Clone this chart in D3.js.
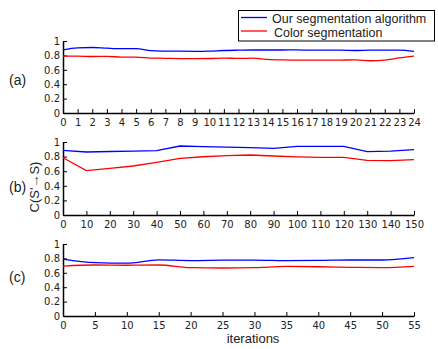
<!DOCTYPE html>
<html>
<head>
<meta charset="utf-8">
<script src="https://cdn.jsdelivr.net/npm/d3@7"></script>
<style>
  body { margin: 0; background: #fff; }
  svg { font-family: "Liberation Sans", Arial, sans-serif; display: block; }
</style>
</head>
<body>
<svg width="438" height="349"></svg>
<script>
// panel (a): iterations 0..24
const itersA = d3.range(0, 25);
const oursA = [0.878, 0.905, 0.91, 0.9, 0.893, 0.893, 0.865, 0.86, 0.858, 0.857, 0.86, 0.868, 0.872, 0.875, 0.875, 0.875, 0.877, 0.872, 0.874, 0.872, 0.868, 0.874, 0.874, 0.874, 0.855];
const colorA = [0.79, 0.79, 0.785, 0.786, 0.776, 0.776, 0.762, 0.76, 0.756, 0.756, 0.757, 0.763, 0.758, 0.762, 0.744, 0.737, 0.735, 0.733, 0.733, 0.735, 0.737, 0.726, 0.734, 0.765, 0.79];

// panel (b): 0..150 step 10
const itersB = d3.range(0, 151, 10);
const oursB = [0.886, 0.863, 0.87, 0.876, 0.882, 0.945, 0.938, 0.93, 0.922, 0.913, 0.94, 0.94, 0.94, 0.868, 0.875, 0.895];
const colorB = [0.785, 0.607, 0.64, 0.671, 0.72, 0.776, 0.798, 0.812, 0.822, 0.808, 0.797, 0.79, 0.79, 0.749, 0.744, 0.758];

// panel (c): 0..55 step 5
const itersC = d3.range(0, 56, 5);
const oursC = [0.79, 0.74, 0.733, 0.78, 0.77, 0.775, 0.777, 0.77, 0.772, 0.778, 0.778, 0.81];
const colorC = [0.694, 0.708, 0.705, 0.708, 0.672, 0.667, 0.672, 0.688, 0.684, 0.676, 0.672, 0.69];

const yTicks = [0, 0.2, 0.4, 0.6, 0.8, 1];
const seriesNames = ["Our segmentation algorithm", "Color segmentation"];
const colors = ["#0000ff", "#ff0000"];

const svg = d3.select("svg");
const x0 = 63, x1 = 414;

const panels = [
  { label: "(a)", xs: itersA, s: [oursA, colorA], top: 41, bottom: 113, ticks: itersA, max: 24, curve: d3.curveMonotoneX, ly: 85 },
  { label: "(b)", xs: itersB, s: [oursB, colorB], top: 142, bottom: 215, ticks: itersB, max: 150, curve: d3.curveLinear, ly: 192 },
  { label: "(c)", xs: itersC, s: [oursC, colorC], top: 244, bottom: 316, ticks: itersC, max: 55, curve: d3.curveMonotoneX, ly: 282 }
];

panels.forEach(p => {
  const x = d3.scaleLinear().domain([0, p.max]).range([x0, x1]);
  const y = d3.scaleLinear().domain([0, 1]).range([p.bottom, p.top]);

  const xAxis = svg.append("g")
    .attr("transform", "translate(0," + p.bottom + ")")
    .call(d3.axisBottom(x).tickValues(p.ticks).tickSizeInner(-4).tickSizeOuter(0).tickPadding(6).tickFormat(d3.format("d")));
  const yAxis = svg.append("g")
    .attr("transform", "translate(" + x0 + ",0)")
    .call(d3.axisLeft(y).tickValues(yTicks).tickSizeInner(-4).tickSizeOuter(0).tickPadding(3).tickFormat(d => d === 0 || d === 1 ? d : d.toFixed(1)));

  [xAxis, yAxis].forEach(a => {
    a.selectAll("text").attr("font-size", 10).attr("fill", "#222").attr("font-family", "DejaVu Sans, sans-serif");
    a.select(".domain").attr("stroke", "#000").attr("stroke-width", 1.5);
    a.selectAll(".tick line").attr("stroke", "#000");
  });

  const line = d3.line()
    .x((d, i) => x(p.xs[i]))
    .y(d => y(d))
    .curve(p.curve);

  p.s.forEach((vals, k) => {
    svg.append("path")
      .datum(vals)
      .attr("fill", "none")
      .attr("stroke", colors[k])
      .attr("stroke-width", 1.3)
      .attr("d", line);
  });

  svg.append("text")
    .attr("x", 9).attr("y", p.ly)
    .attr("font-size", 14).attr("fill", "#222")
    .text(p.label);
});

// y label
svg.append("text")
  .attr("transform", "translate(39,187) rotate(-90)")
  .attr("text-anchor", "middle")
  .attr("font-size", 13).attr("fill", "#222")
  .text("C(S'\u2192S)");

// x label
svg.append("text")
  .attr("x", 253).attr("y", 343)
  .attr("text-anchor", "middle")
  .attr("font-size", 13).attr("fill", "#222")
  .text("iterations");

// legend
const lg = svg.append("g");
lg.append("rect")
  .attr("x", 238.5).attr("y", 10.5).attr("width", 196).attr("height", 30.5)
  .attr("fill", "#fff").attr("stroke", "#000").attr("stroke-width", 1);
seriesNames.forEach((n, i) => {
  const yy = 17.5 + i * 13.5;
  lg.append("line")
    .attr("x1", 241).attr("x2", 267).attr("y1", yy).attr("y2", yy)
    .attr("stroke", colors[i]).attr("stroke-width", 1.3);
  lg.append("text")
    .attr("x", i === 0 ? 272 : 274).attr("y", yy + 5.5)
    .attr("font-size", 12.5).attr("fill", "#222")
    .text(n);
});
</script>
</body>
</html>
